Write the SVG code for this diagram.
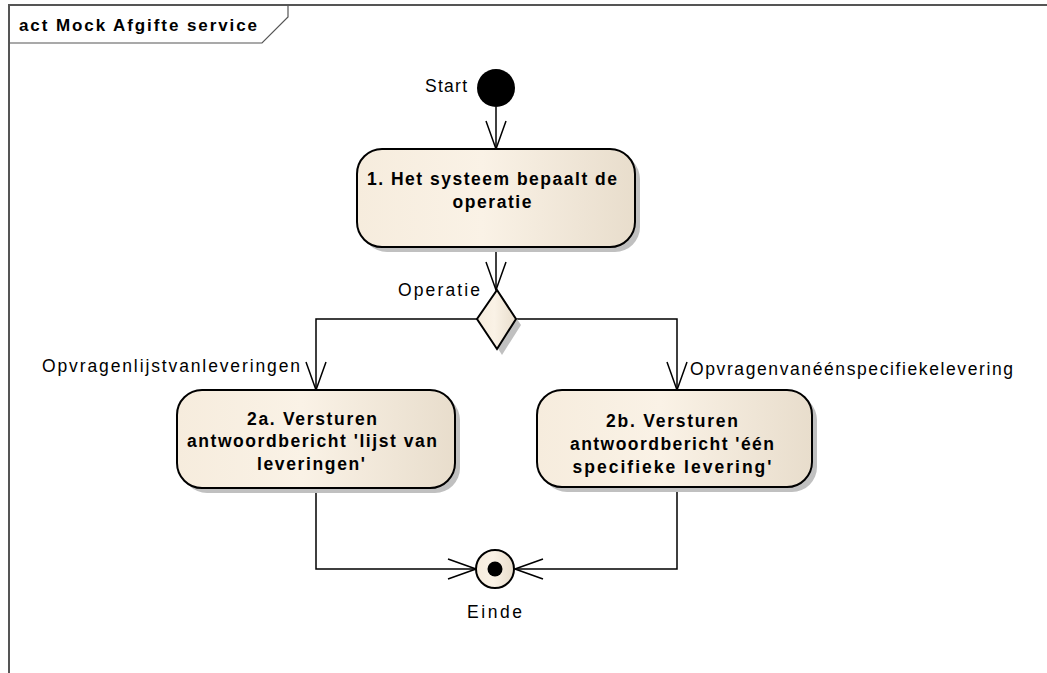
<svg xmlns="http://www.w3.org/2000/svg" width="1047" height="673" viewBox="0 0 1047 673">
<defs>
<linearGradient id="fillg" x1="0" y1="0" x2="1" y2="0">
<stop offset="0" stop-color="#F6ECDD"/>
<stop offset="0.45" stop-color="#FAF2E6"/>
<stop offset="1" stop-color="#E8DDCC"/>
</linearGradient>
<marker id="open" viewBox="0 0 30 22" refX="29" refY="11" markerWidth="30" markerHeight="22" markerUnits="userSpaceOnUse" orient="auto">
<path d="M1,1 L29,11 L1,21" fill="none" stroke="#000" stroke-width="1.5"/>
</marker>
</defs>
<style>
.frame{fill:none;stroke:#555;stroke-width:2}
.node{fill:url(#fillg);stroke:#000;stroke-width:2}
.shadow{fill:#C0C0C0;stroke:none}
.edge{fill:none;stroke:#000;stroke-width:1.5;marker-end:url(#open)}
.lbl{font-family:"Liberation Sans",Arial,sans-serif;font-size:17.5px;fill:#000}
.bold{font-family:"Liberation Sans",Arial,sans-serif;font-size:17.5px;font-weight:bold;fill:#000;text-anchor:middle}
</style>
<rect width="1047" height="673" fill="#fff"/>
<g id="frame">
<path class="frame" d="M9,673 L9,5 L1047,5"/>
<path d="M9,43 L262,43 L288,17 L288,5" fill="none" stroke="#555" stroke-width="1.2"/>
<text x="19" y="31" font-family="Liberation Sans,Arial,sans-serif" font-size="17" font-weight="bold" fill="#000" textLength="238" lengthAdjust="spacing">act Mock Afgifte service</text>
</g>
<g id="connectors">
<path class="edge" d="M496,107 L496,149"/>
<path class="edge" d="M496,247 L496,290"/>
<path class="edge" d="M477,319 L316,319 L316,390"/>
<path class="edge" d="M516,319 L677,319 L677,390"/>
<path class="edge" d="M316,488 L316,569 L476,569"/>
<path class="edge" d="M677,487 L677,569 L515,569"/>
<text class="lbl" x="398" y="296" textLength="82" lengthAdjust="spacing">Operatie</text>
<text class="lbl" x="42" y="372" textLength="258" lengthAdjust="spacing">Opvragenlijstvanleveringen</text>
<text class="lbl" x="690" y="375" textLength="323" lengthAdjust="spacing">Opvragenvanéénspecifiekelevering</text>
</g>
<g id="start">
<circle cx="496" cy="88" r="19" fill="#000"/>
<text class="lbl" x="425" y="92" textLength="42" lengthAdjust="spacing">Start</text>
</g>
<g id="action1">
<rect class="shadow" x="362" y="154" width="278" height="98" rx="25"/>
<rect class="node" x="357" y="149" width="278" height="98" rx="25"/>
<text class="bold" x="492" y="185" textLength="250" lengthAdjust="spacing">1. Het systeem bepaalt de</text>
<text class="bold" x="492" y="208" textLength="79" lengthAdjust="spacing">operatie</text>
</g>
<g id="decision">
<path class="shadow" d="M502,296 L521,325 L502,355 L483,325 Z"/>
<path class="node" d="M497,290 L516,319 L497,349 L477,319 Z" stroke-width="1.5"/>
</g>
<g id="action2a">
<rect class="shadow" x="182" y="395" width="278" height="98" rx="25"/>
<rect class="node" x="177" y="390" width="278" height="98" rx="25"/>
<text class="bold" x="312" y="425" textLength="130" lengthAdjust="spacing">2a. Versturen</text>
<text class="bold" x="312" y="447" textLength="250" lengthAdjust="spacing">antwoordbericht 'lijst van</text>
<text class="bold" x="311" y="470" textLength="108" lengthAdjust="spacing">leveringen'</text>
</g>
<g id="action2b">
<rect class="shadow" x="542" y="395" width="275" height="97" rx="25"/>
<rect class="node" x="537" y="390" width="275" height="97" rx="25"/>
<text class="bold" x="672" y="427" textLength="132" lengthAdjust="spacing">2b. Versturen</text>
<text class="bold" x="672" y="450" textLength="204" lengthAdjust="spacing">antwoordbericht 'één</text>
<text class="bold" x="672" y="473" textLength="199" lengthAdjust="spacing">specifieke levering'</text>
</g>
<g id="final">
<circle cx="495" cy="569" r="19" class="node" stroke-width="1.5"/>
<circle cx="495" cy="569" r="7.5" fill="#000"/>
<text class="lbl" x="467" y="618" textLength="55" lengthAdjust="spacing">Einde</text>
</g>
</svg>
